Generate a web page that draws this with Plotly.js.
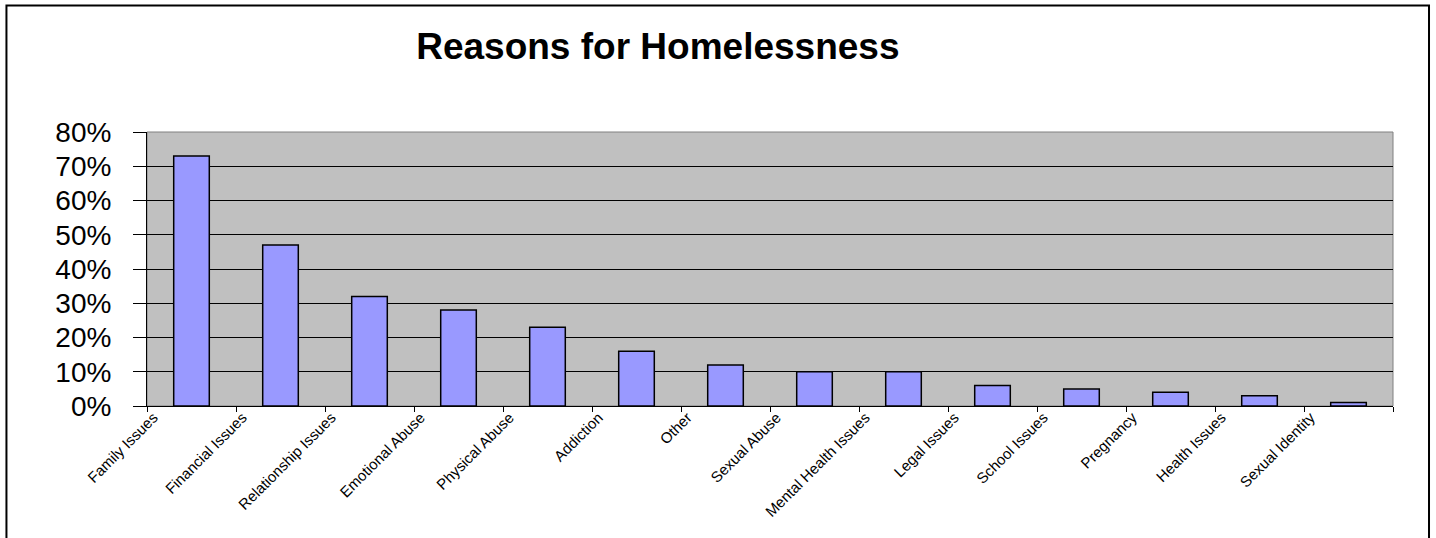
<!DOCTYPE html>
<html>
<head>
<meta charset="utf-8">
<script src="https://cdn.plot.ly/plotly-3.0.1.min.js"></script>
<style>
  html, body { margin: 0; padding: 0; background: #ffffff; }
  #chart { width: 1436px; height: 538px; }
</style>
</head>
<body>
<div id="chart"></div>
<script>
const categories = [
  "Family Issues", "Financial Issues", "Relationship Issues", "Emotional Abuse",
  "Physical Abuse", "Addiction", "Other", "Sexual Abuse", "Mental Health Issues",
  "Legal Issues", "School Issues", "Pregnancy", "Health Issues", "Sexual Identity"
];
const percentValues = [73, 47, 32, 28, 23, 16, 12, 10, 10, 6, 5, 4, 3, 1];
const yTickValues = [0, 0.1, 0.2, 0.3, 0.4, 0.5, 0.6, 0.7, 0.8];
const chartTitle = "Reasons for Homelessness";

const shares = percentValues.map(v => v / 100);

const trace = {
  type: "bar",
  x: categories,
  y: shares,
  marker: { color: "#9999FF", line: { color: "#000000", width: 1.5 } },
  hoverinfo: "x+y"
};

const layout = {
  width: 1436,
  height: 538,
  paper_bgcolor: "#ffffff",
  plot_bgcolor: "#C0C0C0",
  margin: { l: 147, r: 43, t: 132, b: 132, pad: 0 },
  showlegend: false,
  bargap: 0.6,
  title: {
    text: "<b>" + chartTitle + "</b>",
    font: { family: "Liberation Sans, Arial, sans-serif", size: 37, color: "#000000" },
    x: 0.41, xanchor: "center", xref: "paper",
    y: 0.914, yanchor: "middle", yref: "container"
  },
  xaxis: {
    type: "category",
    tickson: "boundaries",
    ticks: "outside",
    ticklen: 5,
    tickwidth: 1,
    tickcolor: "#000000",
    tickangle: -45,
    ticklabelshift: -38,
    ticklabelstandoff: -4,
    tickfont: { family: "Liberation Sans, Arial, sans-serif", size: 15, color: "#000000" },
    showline: true,
    linecolor: "#000000",
    linewidth: 1,
    showgrid: false,
    zeroline: false,
    automargin: false
  },
  yaxis: {
    range: [0, 0.8],
    tickvals: yTickValues,
    tickformat: ".0%",
    ticks: "outside",
    ticklen: 13,
    tickwidth: 1,
    tickcolor: "#000000",
    ticklabelstandoff: 16,
    tickfont: { family: "Liberation Sans, Arial, sans-serif", size: 28, color: "#000000" },
    showline: true,
    linecolor: "#000000",
    linewidth: 1,
    showgrid: true,
    gridcolor: "#000000",
    gridwidth: 1,
    zeroline: false,
    automargin: false
  },
  shapes: [
    {
      type: "rect", xref: "paper", yref: "paper", layer: "below",
      x0: 0, x1: 1, y0: 0, y1: 1,
      line: { color: "#808080", width: 1 }
    },
    {
      type: "rect", xref: "paper", yref: "paper", layer: "above",
      x0: -0.1128, x1: 1.0289, y0: -0.49, y1: 1.4617,
      line: { color: "#000000", width: 2 }
    }
  ]
};

Plotly.newPlot("chart", [trace], layout, { displayModeBar: false, staticPlot: true });
</script>
</body>
</html>
